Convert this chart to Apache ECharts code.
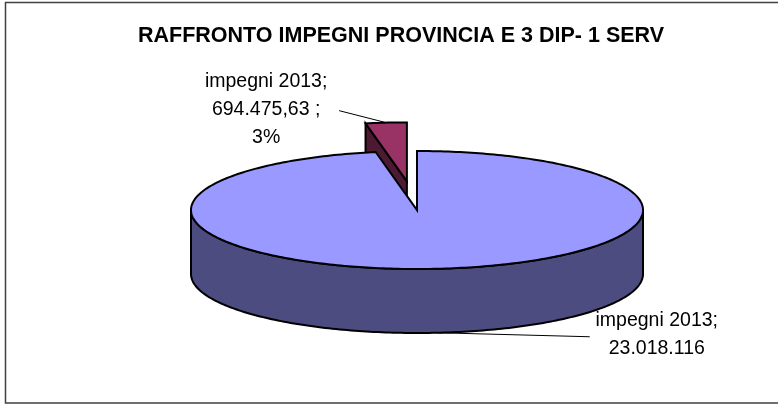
<!DOCTYPE html>
<html>
<head>
<meta charset="utf-8">
<script src="https://cdn.jsdelivr.net/npm/echarts@6/dist/echarts.min.js"></script>
<style>
  html, body { margin: 0; padding: 0; background: #fff; }
  #chart { width: 778px; height: 405px; }
</style>
</head>
<body>
<div id="chart"></div>
<script>
// dati del grafico
const categories = ['impegni 2013', 'impegni 2013']
const values = [23018116, 694475.63]
const valueTexts = ['23.018.116', '694.475,63 ;']
const percentTexts = ['', '3%']

// colori (faccia superiore / lato)
const topColors = ['#9999FF', '#993366']
const sideColors = ['#4C4C80', '#4D1A33']

// geometria della torta 3d
const CX = 417, CY = 210, RX = 226, RY = 59, DEPTH = 64
const explode = [0, 110]
// posizione etichette rispetto al bordo della fetta
const labelOffsets = [[219, 2], [-120, -13]]
const leaderEnds = [[-67, 2], [73, 1]]

const FONT = '"Liberation Sans", Arial, sans-serif'
const total = values.reduce((a, b) => a + b, 0)
const starts = []
let acc = 0
for (let i = 0; i < values.length; i++) {
  starts.push(acc / total * 360)
  acc += values[i]
}

function pt(deg, dx, dy, down) {
  const r = deg * Math.PI / 180
  return [CX + dx + RX * Math.sin(r), CY + dy - RY * Math.cos(r) + (down || 0)]
}

function arc(a, b, dx, dy, down) {
  const pts = []
  const n = Math.max(2, Math.ceil(Math.abs(b - a)))
  for (let k = 0; k <= n; k++) pts.push(pt(a + (b - a) * k / n, dx, dy, down))
  return pts
}

function renderItem(params, api) {
  const i = params.dataIndex
  const a1 = starts[i]
  const a2 = a1 + values[i] / total * 360
  const mid = (a1 + a2) / 2 * Math.PI / 180
  const dx = explode[i] * Math.sin(mid)
  const dy = -explode[i] * Math.cos(mid) * RY / RX
  const c = [CX + dx, CY + dy]
  // le fette esplose stanno dietro
  const zb = explode[i] > 0 ? 0 : 10
  const line = { stroke: '#000', lineWidth: 2, lineJoin: 'miter' }
  const children = []

  // facce di taglio
  const faces = []
  if (Math.sin(a1 * Math.PI / 180) < -0.001) faces.push(a1)
  if (Math.sin(a2 * Math.PI / 180) > 0.001) faces.push(a2)
  faces.forEach(function (a) {
    const p = pt(a, dx, dy)
    children.push({
      type: 'polygon', z2: zb + 1,
      shape: { points: [c, p, [p[0], p[1] + DEPTH], [c[0], c[1] + DEPTH]] },
      style: Object.assign({ fill: sideColors[i] }, line)
    })
  })

  // lato esterno visibile (parte anteriore)
  const s1 = Math.max(a1, 90), s2 = Math.min(a2, 270)
  if (s2 > s1) {
    const pts = arc(s1, s2, dx, dy).concat(arc(s2, s1, dx, dy, DEPTH))
    children.push({
      type: 'polygon', z2: zb + 2,
      shape: { points: pts },
      style: Object.assign({ fill: sideColors[i] }, line)
    })
  }

  // faccia superiore
  children.push({
    type: 'polygon', z2: zb + 3,
    shape: { points: [c].concat(arc(a1, a2, dx, dy)) },
    style: Object.assign({ fill: topColors[i] }, line)
  })

  // etichetta con linea guida
  const r = pt((a1 + a2) / 2, dx, dy, Math.cos(mid) < 0 ? DEPTH : 0)
  const lx = r[0] + labelOffsets[i][0], ly = r[1] + labelOffsets[i][1]
  let txt = categories[i] + ';\n' + valueTexts[i]
  if (percentTexts[i]) txt += '\n' + percentTexts[i]
  children.push({
    type: 'line', z2: 30,
    shape: { x1: r[0], y1: r[1], x2: lx + leaderEnds[i][0], y2: ly + leaderEnds[i][1] },
    style: { stroke: '#000', lineWidth: 1 }
  })
  children.push({
    type: 'text', z2: 30, x: lx, y: ly,
    style: {
      text: txt, fill: '#000', fontFamily: FONT, fontSize: 19.5,
      lineHeight: 28, align: 'center', verticalAlign: 'middle'
    }
  })

  return { type: 'group', children: children }
}

const myChart = echarts.init(document.getElementById('chart'))
const option = {
  backgroundColor: '#fff',
  animation: false,
  title: {
    text: 'RAFFRONTO IMPEGNI PROVINCIA E 3 DIP- 1 SERV',
    left: 133,
    top: 20,
    textStyle: { fontFamily: FONT, fontSize: 21.5, fontWeight: 'bold', color: '#000' }
  },
  graphic: [{
    type: 'rect',
    shape: { x: 5.5, y: 2.5, width: 800, height: 400.5 },
    style: { fill: 'none', stroke: '#404040', lineWidth: 1.5 }
  }],
  series: [{
    type: 'custom',
    coordinateSystem: 'none',
    renderItem: renderItem,
    data: values.map(function (v, i) { return { name: categories[i], value: v } })
  }]
}
myChart.setOption(option)
</script>
</body>
</html>
